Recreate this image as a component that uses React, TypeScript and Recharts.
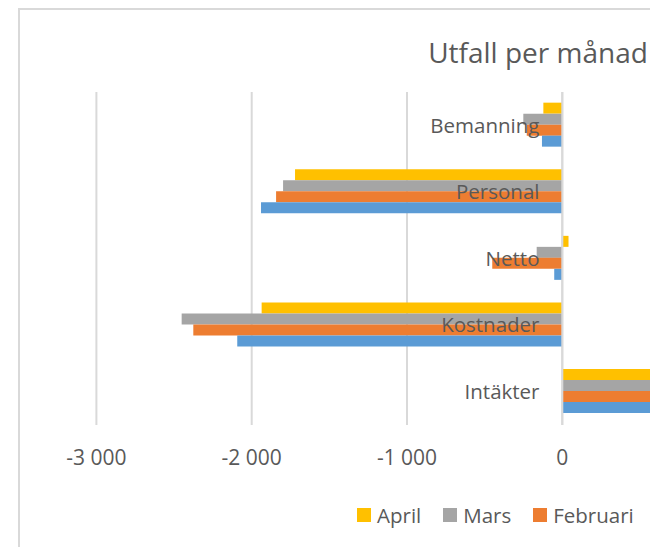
import React from "react"
import {
  Bar,
  BarChart,
  CartesianGrid,
  Legend,
  ReferenceLine,
  XAxis,
  YAxis,
} from "recharts"

const categories = ["Bemanning", "Personal", "Netto", "Kostnader", "Intäkter"]
const seriesNames = ["April", "Mars", "Februari", "Januari"]
const april = [-122, -1721, 40, -1936, 1976]
const mars = [-251, -1798, -165, -2451, 2286]
const februari = [-229, -1843, -451, -2376, 1925]
const januari = [-131, -1940, -52, -2093, 2041]
const xTicks = [-3000, -2000, -1000, 0, 1000, 2000, 3000]

const data = categories.map((name, i) => ({
  name,
  April: april[i],
  Mars: mars[i],
  Februari: februari[i],
  Januari: januari[i],
}))

const CHART_W = 1060
const CHART_H = 600
const Y_AXIS_W = 2
const MARGIN = { top: 92, right: 31.8, bottom: 145, left: 96.4 - Y_AXIS_W }
const X_MIN = -3000
const X_MAX = 3000
const PLOT_LEFT = MARGIN.left + Y_AXIS_W
const PLOT_W = CHART_W - PLOT_LEFT - MARGIN.right
const ZERO_X = PLOT_LEFT + (PLOT_W * (0 - X_MIN)) / (X_MAX - X_MIN)

const TEXT = "#595959"
const GRID = "#d9d9d9"
const FONT = "'Open Sans', sans-serif"

const fmt = (v: number) => {
  const s = String(Math.abs(v)).replace(/\B(?=(\d{3})+(?!\d))/g, " ")
  return v < 0 ? "-" + s : s
}

const renderCategoryTick = (props: any) => {
  const { y, payload } = props
  return (
    <text
      x={ZERO_X - 22.8}
      y={y}
      dy="0.355em"
      textAnchor="end"
      fill={TEXT}
      fontSize={20.5}
      fontFamily={FONT}
    >
      {payload.value}
    </text>
  )
}

const renderLegend = (props: any) => {
  const items = [...(props.payload || [])].sort(
    (a: any, b: any) => seriesNames.indexOf(a.value) - seriesNames.indexOf(b.value)
  )
  return (
    <div style={{ display: "flex", alignItems: "center", whiteSpace: "nowrap" }}>
      {items.map((entry: any) => (
        <div
          key={entry.value}
          style={{ display: "flex", alignItems: "center", marginRight: 22 }}
        >
          <span
            style={{
              display: "inline-block",
              width: 14,
              height: 14,
              background: entry.color,
              marginRight: 6,
            }}
          />
          <span style={{ fontSize: 20.5, color: TEXT, fontFamily: FONT }}>
            {entry.value}
          </span>
        </div>
      ))}
    </div>
  )
}

export default function App() {
  return (
    <div
      style={{
        position: "fixed",
        left: 0,
        top: 0,
        width: 650,
        height: 547,
        overflow: "hidden",
        background: "#fff",
        fontFamily: FONT,
      }}
    >
      <div
        style={{
          position: "absolute",
          left: 18,
          top: 8,
          width: 1040,
          height: 700,
          border: `2px solid ${GRID}`,
        }}
      />
      <div
        style={{
          position: "absolute",
          left: 19,
          width: 1038,
          top: 33,
          textAlign: "center",
          fontSize: 28,
          color: TEXT,
          whiteSpace: "nowrap",
        }}
      >
        Utfall per månad
      </div>
      <div style={{ position: "absolute", left: 0, top: 0 }}>
        <BarChart
          width={CHART_W}
          height={CHART_H}
          data={data}
          layout="vertical"
          margin={MARGIN}
          barCategoryGap="16%"
          barGap={0}
        >
          <CartesianGrid
            horizontal={false}
            vertical={true}
            stroke={GRID}
            strokeWidth={2}
          />
          <XAxis
            type="number"
            domain={[X_MIN, X_MAX]}
            ticks={xTicks}
            tickFormatter={fmt}
            axisLine={false}
            tickLine={false}
            tickSize={0}
            tickMargin={25}
            height={30}
            tick={{ fill: TEXT, fontSize: 21, fontFamily: FONT }}
          />
          <Bar dataKey="April" fill="#FFC000" isAnimationActive={false} />
          <Bar dataKey="Mars" fill="#A5A5A5" isAnimationActive={false} />
          <Bar dataKey="Februari" fill="#ED7D31" isAnimationActive={false} />
          <Bar dataKey="Januari" fill="#5B9BD5" isAnimationActive={false} />
          <ReferenceLine x={0} stroke={GRID} strokeWidth={2} />
          <YAxis
            type="category"
            dataKey="name"
            width={Y_AXIS_W}
            axisLine={false}
            tickLine={false}
            tick={renderCategoryTick}
            interval={0}
          />
          <Legend
            content={renderLegend}
            layout="horizontal"
            verticalAlign="middle"
            align="center"
            wrapperStyle={{ left: 357, top: 501, width: "auto" }}
          />
        </BarChart>
      </div>
    </div>
  )
}
